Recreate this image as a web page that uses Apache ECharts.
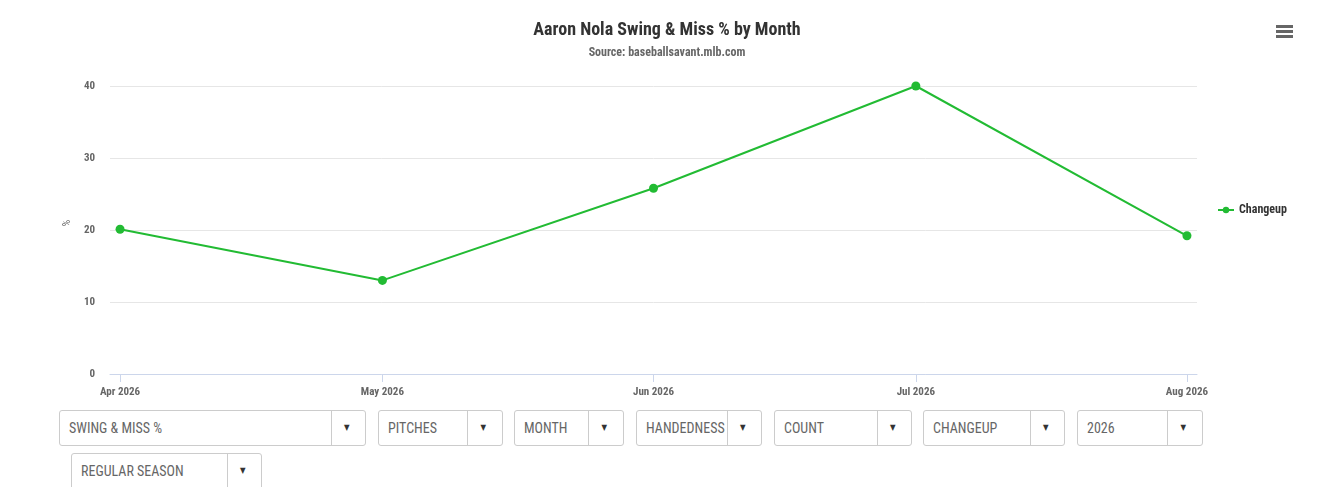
<!DOCTYPE html>
<html>
<head>
<meta charset="utf-8">
<script src="https://cdn.jsdelivr.net/npm/echarts@6/dist/echarts.min.js"></script>
<style>
  html, body { margin:0; padding:0; background:#fff; width:1334px; height:487px; overflow:hidden; }
  body { font-family: "Roboto Condensed", "Liberation Sans Narrow", "DejaVu Sans Condensed", Roboto, sans-serif; position:relative; }
  #chart { position:absolute; left:0; top:0; width:1334px; height:400px; }
  .menu { position:absolute; left:1276px; top:25px; width:17px; }
  .menu div { height:3px; background:#666; margin-bottom:2px; }
  .dd { position:absolute; height:36px; border:1px solid #ccc; border-radius:3px; box-sizing:border-box; background:#fff; color:#666; font-size:14px; }
  .dd .t { position:absolute; left:9px; top:0; line-height:34px; white-space:nowrap; overflow:hidden; }
  .dd .d { position:absolute; top:0; bottom:0; border-left:1px solid #ccc; }
  .dd .a { position:absolute; top:0; line-height:34px; font-size:8px; color:#333; }
</style>
</head>
<body>
<div id="chart"></div>
<div class="menu"><div></div><div></div><div></div></div>
<div id="controls"></div>
<script>
// ---- data ----
var months = ["2026-04-01", "2026-05-01", "2026-06-01", "2026-07-01", "2026-08-01"];
var monthLabels = ["Apr 2026", "May 2026", "Jun 2026", "Jul 2026", "Aug 2026"];
var changeup = [20.1, 13.0, 25.8, 40.0, 19.2];
var yTicks = [0, 10, 20, 30, 40];
var seriesName = "Changeup";
var titleText = "Aaron Nola Swing & Miss % by Month";
var subtitleText = "Source: baseballsavant.mlb.com";
var dropdowns = ["SWING & MISS %", "PITCHES", "MONTH", "HANDEDNESS", "COUNT", "CHANGEUP", "2026", "REGULAR SEASON"];

// ---- controls (page UI) ----
var ddLayout = [
  {l:59, w:307, d:271, top:410}, {l:378, w:125, d:88, top:410}, {l:514, w:110, d:73, top:410},
  {l:636, w:126, d:90, top:410}, {l:774, w:138, d:102, top:410}, {l:923, w:142, d:106, top:410},
  {l:1077, w:126, d:89, top:410}, {l:71, w:191, d:155, top:453}
];
var ctl = document.getElementById('controls');
dropdowns.forEach(function (txt, i) {
  var L = ddLayout[i];
  var el = document.createElement('div');
  el.className = 'dd';
  el.style.left = L.l + 'px'; el.style.top = L.top + 'px'; el.style.width = L.w + 'px';
  if (L.top === 453) el.style.height = '40px';
  var t = document.createElement('div'); t.className = 't'; t.textContent = txt; t.style.width = (L.d - 9) + 'px';
  var d = document.createElement('div'); d.className = 'd'; d.style.left = L.d + 'px';
  var a = document.createElement('div'); a.className = 'a'; a.textContent = '\u25BC'; a.style.left = (L.d + (L.w - L.d) / 2 - 5) + 'px';
  el.appendChild(t); el.appendChild(d); el.appendChild(a);
  ctl.appendChild(el);
});

// ---- chart ----
var FONT = '"Roboto Condensed", "Liberation Sans Narrow", "DejaVu Sans Condensed", Roboto, sans-serif';
function ts(s) { var p = s.split('-'); return Date.UTC(+p[0], +p[1] - 1, +p[2]); }
var xVals = months.map(ts);
var labelMap = {};
xVals.forEach(function (v, i) { labelMap[v] = monthLabels[i]; });
var pad = 1.15 * 86400000;

var chart = echarts.init(document.getElementById('chart'), null, { renderer: 'canvas' });
chart.setOption({
  backgroundColor: '#fff',
  animation: false,
  title: {
    text: titleText,
    subtext: subtitleText,
    left: 'center',
    top: 16,
    itemGap: 8,
    textStyle: { fontFamily: FONT, fontSize: 18, fontWeight: 'bold', color: '#333' },
    subtextStyle: { fontFamily: FONT, fontSize: 12, fontWeight: 'bold', color: '#666' }
  },
  legend: {
    orient: 'vertical',
    left: 1212,
    top: 199,
    itemWidth: 16,
    itemHeight: 8,
    itemGap: 6,
    data: [{ name: seriesName }],
    textStyle: { fontFamily: FONT, fontSize: 12, fontWeight: 'bold', color: '#333' }
  },
  grid: { left: 110, right: 137, top: 86, bottom: 26, containLabel: false },
  xAxis: {
    type: 'value',
    min: xVals[0] - pad,
    max: xVals[xVals.length - 1] + pad,
    splitLine: { show: false },
    axisLine: { show: true, lineStyle: { color: '#ccd6eb', width: 1 } },
    axisTick: { show: true, customValues: xVals, length: 8, lineStyle: { color: '#ccd6eb' } },
    axisLabel: {
      customValues: xVals,
      margin: 13,
      fontFamily: FONT, fontSize: 11, fontWeight: 'bold', color: '#666',
      formatter: function (v) { return labelMap[v] || ''; }
    }
  },
  yAxis: {
    type: 'value',
    min: yTicks[0],
    max: yTicks[yTicks.length - 1],
    interval: 10,
    name: '%',
    nameLocation: 'middle',
    nameGap: 37,
    nameRotate: 90,
    nameTextStyle: { fontFamily: FONT, fontSize: 10, color: '#666', padding: [0, 0, 0, 14] },
    axisLine: { show: false },
    axisTick: { show: false },
    splitLine: { lineStyle: { color: '#e6e6e6', width: 1 } },
    axisLabel: { margin: 15, fontFamily: FONT, fontSize: 11, fontWeight: 'bold', color: '#666' }
  },
  series: [{
    name: seriesName,
    type: 'line',
    data: xVals.map(function (x, i) { return [x, changeup[i]]; }),
    symbol: 'circle',
    symbolSize: 9,
    itemStyle: { color: '#22bb33' },
    lineStyle: { color: '#22bb33', width: 2 }
  }]
});
</script>
</body>
</html>
